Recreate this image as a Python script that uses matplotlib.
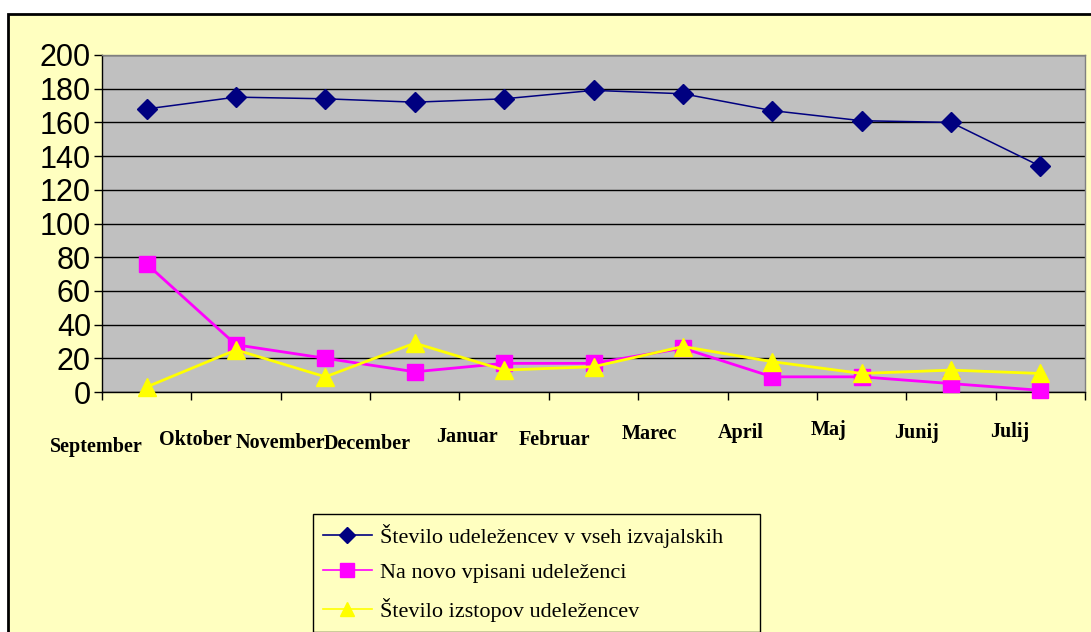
import matplotlib
matplotlib.use("Agg")
import matplotlib.pyplot as plt
from matplotlib.patches import Rectangle
import numpy as np

months = ["September", "Oktober", "November", "December", "Januar", "Februar",
          "Marec", "April", "Maj", "Junij", "Julij"]
vsi = [168, 175, 174, 172, 174, 179, 177, 167, 161, 160, 134]
novi = [76, 28, 20, 12, 17, 17, 26, 9, 9, 5, 1]
izstopi = [3, 25, 9, 29, 13, 15, 27, 18, 11, 13, 11]

names = ["Število udeležencev v vseh izvajalskih",
         "Na novo vpisani udeleženci",
         "Število izstopov udeležencev"]

# label placement quirks of the original (offsets from the category boundary, in categories / axes units)
lab_dx = [-0.06, 0.04, -0.01, -0.03, 0.08, 0.06, 0.12, 0.15, 0.13, 0.12, 0.16]
lab_y = [-0.163, -0.142, -0.151, -0.154, -0.134, -0.142, -0.125, -0.122, -0.113, -0.122, -0.119]

BG = "#FFFFC0"
W, H = 1091, 632
fig = plt.figure(figsize=(W / 100, H / 100), dpi=100)
fig.patch.set_facecolor("white")
fig.patches.append(Rectangle((8 / W, -0.05), 1.2, 1 - 14 / H + 0.05, transform=fig.transFigure,
                             facecolor=BG, edgecolor="black", linewidth=2, zorder=-5))

ax = fig.add_axes([102 / W, 1 - 392 / H, (1085 - 102) / W, (392 - 55) / H])
ax.set_facecolor("#C0C0C0")

x = np.arange(len(months))
ax.plot(x, vsi, color="#000080", lw=1.1, marker="D", ms=10, mec="#000080", label=names[0], clip_on=False, zorder=4)
ax.plot(x, novi, color="#FF00FF", lw=2.0, marker="s", ms=11.5, mec="#FF00FF", label=names[1], clip_on=False, zorder=3)
ax.plot(x, izstopi, color="#FFFF00", lw=2.0, marker="^", ms=12.5, mec="#FFFF00", label=names[2], clip_on=False, zorder=5)

ax.set_xlim(-0.5, len(months) - 0.5)
ax.set_ylim(0, 200)
ax.set_yticks(range(0, 201, 20))
ax.yaxis.grid(True, color="black", lw=1)
ax.set_axisbelow(True)
ax.tick_params(axis="y", labelsize=22, direction="out", length=6, width=1, pad=2)
for t in ax.get_yticklabels():
    t.set_fontfamily("Liberation Sans")

ax.set_xticks(np.arange(-0.5, len(months), 1.0))
ax.set_xticklabels([])
ax.tick_params(axis="x", direction="out", length=6, width=1)
for i, m in enumerate(months):
    ax.text(i - 0.5 + lab_dx[i], lab_y[i], m, transform=ax.get_xaxis_transform(),
            ha="center", va="center", fontsize=14.5, fontweight="bold",
            fontfamily="Liberation Serif")

for s in ["top", "right"]:
    ax.spines[s].set_color("#808080")
    ax.spines[s].set_linewidth(1)
for s in ["left", "bottom"]:
    ax.spines[s].set_color("black")
    ax.spines[s].set_linewidth(1)

leg = fig.legend(loc="upper left", bbox_to_anchor=(313 / W, 1 - 632 / H, 447 / W, 118 / H),
                 mode="expand", frameon=True, fancybox=False, facecolor=BG, edgecolor="black",
                 framealpha=1, prop={"family": "Liberation Serif", "size": 16},
                 handlelength=2.2, labelspacing=0.66, borderpad=0.45, handletextpad=0.35,
                 borderaxespad=0, markerscale=0.85)
leg.get_frame().set_linewidth(1)
for line in leg.get_lines():
    line.set_linewidth(1.2)

fig.savefig("out.png", dpi=100, facecolor=fig.get_facecolor())
